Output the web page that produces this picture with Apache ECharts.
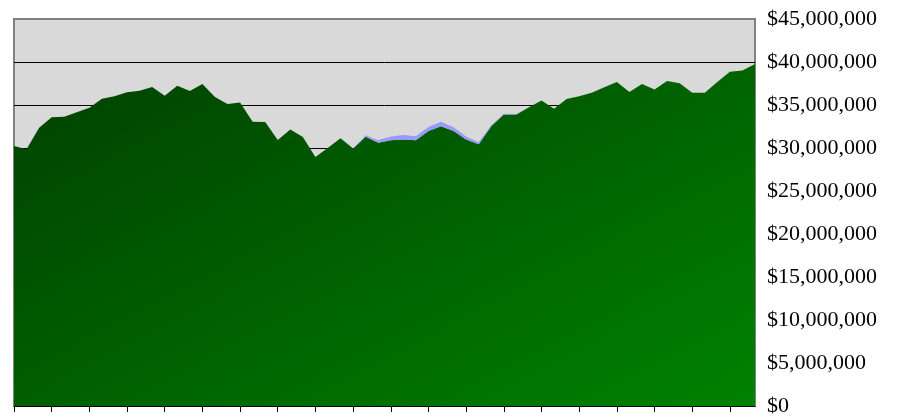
<!DOCTYPE html>
<html>
<head>
<meta charset="utf-8">
<script src="https://cdn.jsdelivr.net/npm/echarts@6/dist/echarts.min.js"></script>
<style>
  html, body { margin: 0; padding: 0; background: #fff; }
  #chart { width: 897px; height: 417px; }
</style>
</head>
<body>
<div id="chart"></div>
<script>
// periods (unlabelled on the chart)
const periods = [
  'P1', 'P2', 'P3', 'P4', 'P5', 'P6', 'P7', 'P8', 'P9', 'P10',
  'P11', 'P12', 'P13', 'P14', 'P15', 'P16', 'P17', 'P18', 'P19', 'P20',
  'P21', 'P22', 'P23', 'P24', 'P25', 'P26', 'P27', 'P28', 'P29', 'P30',
  'P31', 'P32', 'P33', 'P34', 'P35', 'P36', 'P37', 'P38', 'P39', 'P40',
  'P41', 'P42', 'P43', 'P44', 'P45', 'P46', 'P47', 'P48', 'P49', 'P50',
  'P51', 'P52', 'P53', 'P54', 'P55', 'P56', 'P57', 'P58', 'P59', 'P60'
]

// main series, dollars
const greenValues = [
  30230000, 29850000, 32360000, 33580000, 33630000, 34160000, 34670000, 35720000, 36010000, 36480000,
  36670000, 37100000, 36090000, 37250000, 36640000, 37450000, 35940000, 35110000, 35280000, 33060000,
  33030000, 30920000, 32160000, 31270000, 28960000, 30040000, 31120000, 29930000, 31320000, 30620000,
  30890000, 31000000, 30890000, 31970000, 32540000, 31970000, 31000000, 30430000, 32540000, 33900000,
  33900000, 34740000, 35520000, 34560000, 35710000, 36010000, 36410000, 37050000, 37680000, 36520000,
  37450000, 36790000, 37800000, 37520000, 36410000, 36410000, 37680000, 38870000, 39020000, 39760000
]

// thin series stacked on top
const blueValues = [
  0, 0, 0, 0, 0, 0, 0, 0, 0, 0,
  0, 0, 0, 0, 0, 0, 0, 0, 0, 0,
  0, 0, 0, 0, 0, 0, 0, 0, 150000, 270000,
  450000, 500000, 470000, 480000, 500000, 430000, 350000, 250000, 100000, 80000,
  40000, 0, 0, 0, 0, 0, 0, 0, 0, 0,
  0, 0, 0, 0, 0, 0, 0, 0, 0, 0
]

const chart = echarts.init(document.getElementById('chart'))

// diagonal gradient across the plot area: corners top-right / bottom-left share a colour
const gradient = new echarts.graphic.LinearGradient(14, 19, 334, 629, [
  { offset: 0, color: '#003c00' },
  { offset: 1, color: '#008200' }
], true)

const option = {
  animation: false,
  grid: {
    left: 14,
    right: 142,
    top: 19,
    bottom: 9,
    show: true,
    backgroundColor: '#d9d9d9',
    borderColor: '#808080',
    borderWidth: 2
  },
  xAxis: {
    type: 'category',
    data: periods,
    boundaryGap: false,
    axisLine: { show: true, lineStyle: { color: '#000', width: 1 } },
    axisTick: { show: true, interval: 2, length: 6, lineStyle: { color: '#000' } },
    axisLabel: { show: false },
    splitLine: { show: false }
  },
  yAxis: {
    type: 'value',
    position: 'right',
    min: 0,
    max: 45000000,
    interval: 5000000,
    axisLine: { show: false },
    axisTick: { show: false },
    splitLine: {
      show: true,
      lineStyle: {
        color: ['#000', '#000', '#000', '#000', '#000', '#000', '#000', '#000', '#000', '#808080'],
        width: 1
      }
    },
    axisLabel: {
      margin: 12,
      color: '#000',
      fontFamily: 'Liberation Serif',
      fontSize: 22,
      formatter: v => '$' + v.toLocaleString('en-US')
    }
  },
  series: [
    {
      type: 'line',
      stack: 'total',
      data: greenValues,
      showSymbol: false,
      lineStyle: { width: 0, opacity: 0 },
      areaStyle: { opacity: 1, color: gradient }
    },
    {
      type: 'line',
      stack: 'total',
      data: blueValues,
      showSymbol: false,
      lineStyle: { width: 0, opacity: 0 },
      areaStyle: { opacity: 1, color: '#9999ff' }
    }
  ]
}

chart.setOption(option)
</script>
</body>
</html>
